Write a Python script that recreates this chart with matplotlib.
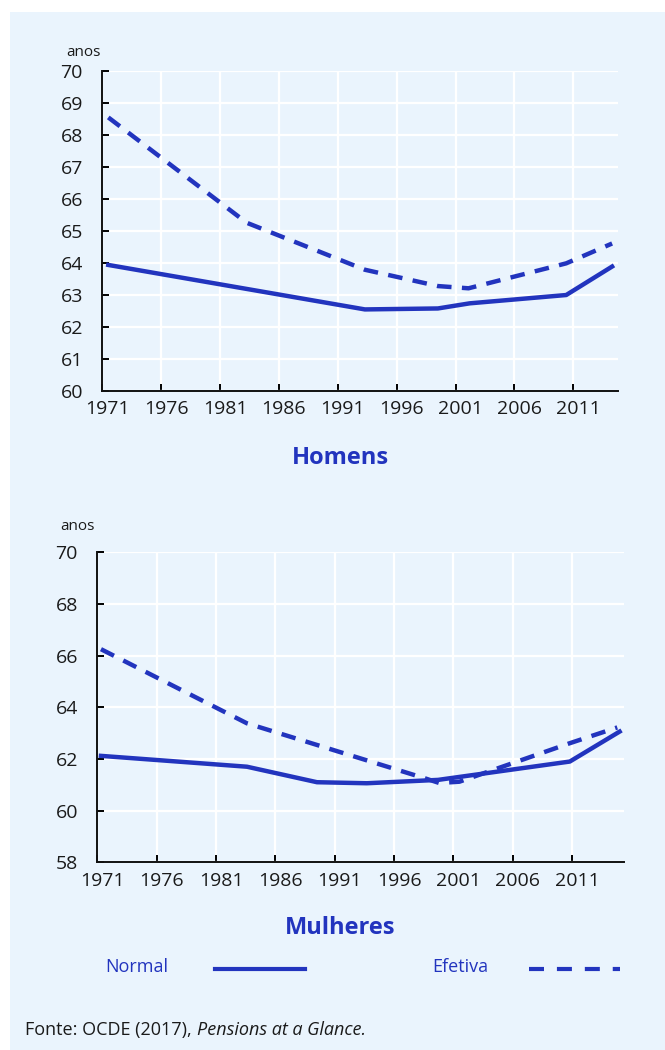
import matplotlib
matplotlib.use('Agg')
import matplotlib.pyplot as plt
import matplotlib.transforms as mtransforms
from matplotlib.patches import Rectangle

plt.rcParams['font.family'] = ['Open Sans', 'Noto Sans', 'DejaVu Sans']
plt.rcParams['lines.scale_dashes'] = False

# Homens (men)
men_normal_years = [1971.5, 1993.3, 1999.5, 2002.2, 2010.4, 2014.3]
men_normal = [63.93, 62.54, 62.57, 62.73, 62.99, 63.88]
men_eff_years = [1971.5, 1983.25, 1993.3, 1999.5, 2002.1, 2010.4, 2014.3]
men_eff = [68.54, 65.25, 63.78, 63.27, 63.2, 63.98, 64.6]

# Mulheres (women)
women_normal_years = [1971.3, 1983.6, 1989.5, 1993.7, 1999.7, 2010.8, 2015.0]
women_normal = [62.12, 61.70, 61.10, 61.06, 61.19, 61.90, 63.06]
women_eff_years = [1971.3, 1983.6, 1998.6, 1999.8, 2001.5, 2010.8, 2014.8]
women_eff = [66.25, 63.38, 61.25, 61.07, 61.12, 62.61, 63.22]

xticks = [1971, 1976, 1981, 1986, 1991, 1996, 2001, 2006, 2011]
men_yticks = list(range(60, 71))
women_yticks = list(range(58, 71, 2))

BLUE = '#2234BE'
BG = '#EAF4FD'
W, H = 665, 1050

fig = plt.figure(figsize=(W / 100, H / 100), dpi=100)
fig.patch.set_facecolor('white')
fig.patches.append(Rectangle((10 / W, 0), 1, 1 - 12 / H, transform=fig.transFigure,
                             facecolor=BG, edgecolor='none', zorder=-5))


def px_axes(left, top, right, bottom):
    return fig.add_axes([left / W, 1 - bottom / H, (right - left) / W, (bottom - top) / H])


def style(ax, yticks, ylim, xlim):
    ax.set_facecolor('none')
    ax.set_xlim(*xlim)
    ax.set_ylim(*ylim)
    ax.set_xticks(xticks)
    ax.set_yticks(yticks)
    ax.grid(True, color='white', linewidth=1.6)
    ax.set_axisbelow(True)
    for s in ['top', 'right']:
        ax.spines[s].set_visible(False)
    for s in ['left', 'bottom']:
        ax.spines[s].set_linewidth(1.4)
        ax.spines[s].set_color('#111111')
    ax.tick_params(axis='both', direction='in', length=5, width=1.4,
                   labelsize=14, labelcolor='#1a1a1a')
    ax.tick_params(axis='y', pad=14)
    ax.tick_params(axis='x', pad=7)
    off = mtransforms.ScaledTranslation(5 / 100, 0, fig.dpi_scale_trans)
    for lab in ax.get_xticklabels():
        lab.set_transform(lab.get_transform() + off)


def draw(ax, ny, nv, ey, ev):
    ax.plot(ny, nv, color=BLUE, linewidth=3.2, solid_joinstyle='round', zorder=3)
    ax.plot(ey, ev, color=BLUE, linewidth=3.2, dashes=(10.5, 7.5), zorder=3)


ax1 = px_axes(102.4, 70.7, 618, 390.7)
style(ax1, men_yticks, (60, 70), (1971, 2014.8))
draw(ax1, men_normal_years, men_normal, men_eff_years, men_eff)

ax2 = px_axes(97.4, 552.3, 624.4, 862.3)
style(ax2, women_yticks, (58, 70), (1971, 2015.4))
draw(ax2, women_normal_years, women_normal, women_eff_years, women_eff)


def ftext(x, y, s, **kw):
    return fig.text(x / W, 1 - y / H, s, **kw)


ftext(83, 52, 'anos', fontsize=11, ha='center', va='center', color='#1a1a1a')
ftext(77, 526, 'anos', fontsize=11, ha='center', va='center', color='#1a1a1a')
ftext(340, 458, 'Homens', fontsize=17, fontweight='bold', ha='center', va='center', color=BLUE)
ftext(340, 928, 'Mulheres', fontsize=17, fontweight='bold', ha='center', va='center', color=BLUE)

# legend
ftext(105, 967, 'Normal', fontsize=13, ha='left', va='center', color=BLUE)
ftext(432, 967, 'Efetiva', fontsize=13, ha='left', va='center', color=BLUE)
fig.add_artist(plt.Line2D([215 / W, 305 / W], [1 - 969 / H] * 2, transform=fig.transFigure,
                          color=BLUE, linewidth=3.0))
fig.add_artist(plt.Line2D([529 / W, 620 / W], [1 - 969 / H] * 2, transform=fig.transFigure,
                          color=BLUE, linewidth=3.0, dashes=(10.8, 9.3)))

# source
t1 = ftext(25, 1030, 'Fonte: OCDE (2017),', fontsize=13, ha='left', va='center', color='#1a1a1a')
fig.canvas.draw()
bb = t1.get_window_extent()
ftext(bb.x1 + 5, 1030, 'Pensions at a Glance.', fontsize=13, ha='left', va='center',
      color='#1a1a1a', style='italic')

fig.savefig('out.png', dpi=100)
